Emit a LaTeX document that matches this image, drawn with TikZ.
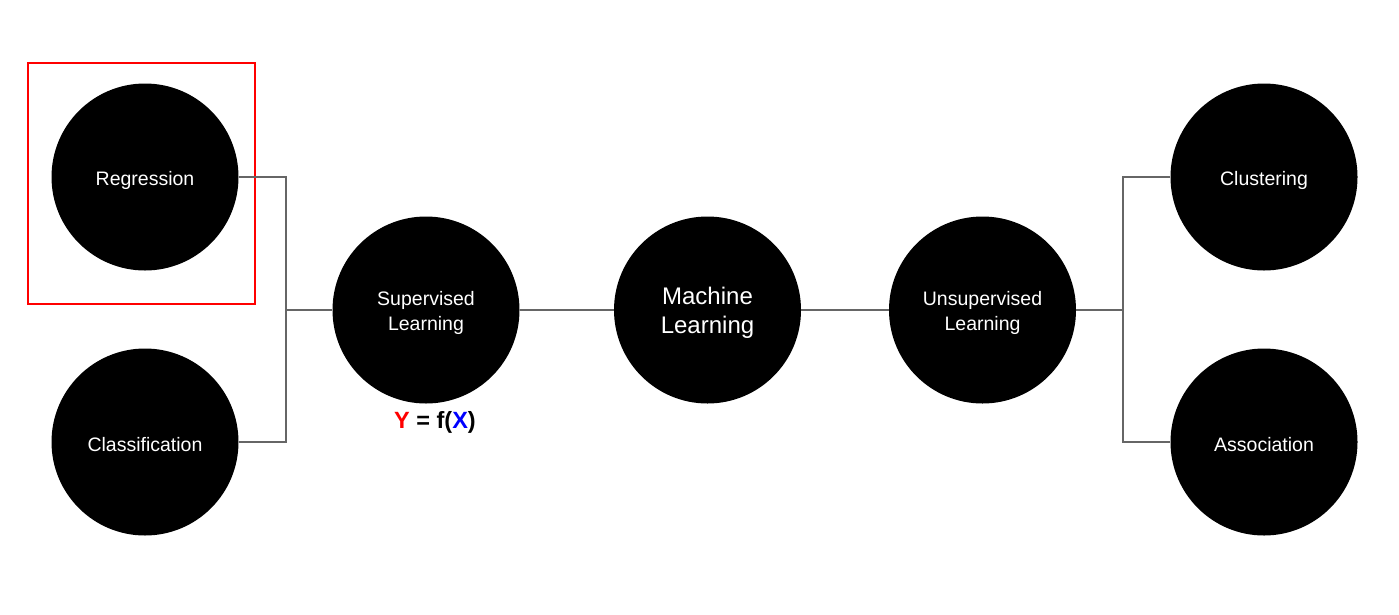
\documentclass[tikz,border=0pt]{standalone}
\usepackage{fontspec}
\setmainfont{Liberation Sans}
\begin{document}
\begin{tikzpicture}[x=1pt,y=-1pt,
  disc/.style={circle,fill=black,draw=none,minimum size=187pt,inner sep=0pt},
  ball/.style={disc,label={[text=white,align=center,yshift=-3pt,font=\fontsize{19.5}{24.5}\selectfont]center:#1}},
  bigball/.style={disc,label={[text=white,align=center,yshift=-3pt,font=\fontsize{24}{28.5}\selectfont]center:#1}},
  link/.style={draw=black!60,line width=1.5pt}]
\useasboundingbox (0,0) rectangle (1399,614);
\node[ball={Regression}] (reg) at (145,177) {};
\node[ball={Classification}] (cls) at (145,442) {};
\node[ball={Supervised\\Learning}] (sup) at (426,310) {};
\node[bigball={Machine\\Learning}] (ml) at (707.5,310) {};
\node[ball={Unsupervised\\Learning}] (uns) at (982.5,310) {};
\node[ball={Clustering}] (clu) at (1264,177) {};
\node[ball={Association}] (ass) at (1264,442) {};
\node[draw=red,line width=1.5pt,minimum width=227pt,minimum height=241pt,inner sep=0pt] (hl) at (141.5,183.5) {};
\node[font=\bfseries\fontsize{23.5}{28}\selectfont] (eq) at (435,422.5) {\textcolor{red}{Y} = f(\textcolor{blue}{X})};
\coordinate (lj) at (286,310);
\coordinate (rj) at (1123,310);
\draw[link] (reg.east) -| (lj);
\draw[link] (cls.east) -| (lj);
\draw[link] (lj) -- (sup.west);
\draw[link] (sup.east) -- (ml.west);
\draw[link] (ml.east) -- (uns.west);
\draw[link] (uns.east) -- (rj);
\draw[link] (clu.west) -| (rj);
\draw[link] (ass.west) -| (rj);
\end{tikzpicture}
\end{document}
